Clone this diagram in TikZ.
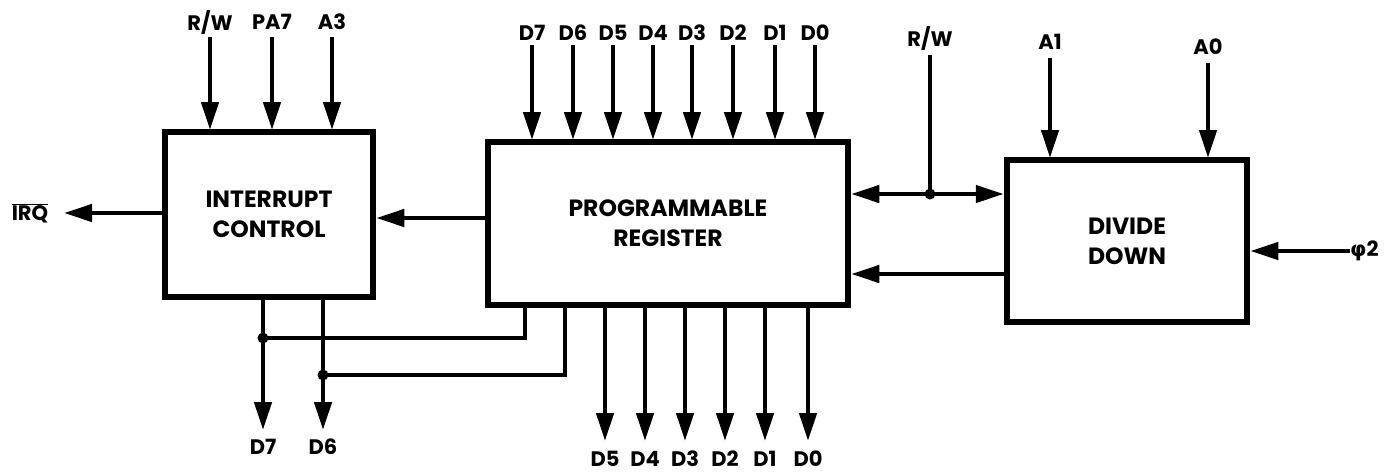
\documentclass[tikz,border=0pt]{standalone}
\usepackage{fontspec}
\setmainfont{Poppins}
\newfontfamily\dejavu{DejaVu Sans}
\usetikzlibrary{arrows.meta}
\begin{document}
\begin{tikzpicture}[x=1pt,y=-1pt,
  blk/.style={draw,line width=6.5pt,minimum width=#1,inner sep=0pt,align=center,font=\bfseries\fontsize{23.5}{30}\selectfont},
  sig/.style={line width=4.5pt,-{Triangle[length=28pt,width=17pt]}},
  dsig/.style={line width=4.5pt,{Triangle[length=28pt,width=17pt]}-{Triangle[length=28pt,width=17pt]}},
  wire/.style={line width=4.5pt},
  lbl/.style={inner sep=0pt,font=\bfseries\fontsize{21}{22}\selectfont},
  dot/.style={circle,fill,inner sep=0pt,minimum size=11pt}]
\useasboundingbox (0,0) rectangle (1388,475);
% boxes
\node[blk=208pt,minimum height=165pt] (ic) at (269,214.5) {INTERRUPT\\CONTROL};
\node[blk=360pt,minimum height=163pt] (pr) at (668,223.5) {PROGRAMMABLE\\REGISTER};
\node[blk=240pt,minimum height=162pt] (dd) at (1127,241) {DIVIDE\\DOWN};
% interrupt control inputs
\node[lbl] (rw1) at (210,22) {R/W};
\node[lbl] (pa7) at (272,22) {PA7};
\node[lbl] (a3) at (332,22) {A3};
\foreach \n/\x in {rw1/210,pa7/272,a3/332}
  \draw[sig] (\x,37) -- (\x,130);
% IRQ
\node[lbl] (irq) at (30,213) {$\overline{\hbox{IRQ}}$};
\draw[sig] (ic.west |- 0,213) -- (64,213);
% register -> interrupt
\draw[sig] (pr.west |- 0,218) -- (ic.east |- 0,218);
% interrupt control outputs
\coordinate (j7) at (263,338);
\coordinate (j6) at (323,375);
\node[lbl] (od7) at (263,447) {D7};
\node[lbl] (od6) at (323,447) {D6};
\draw[sig] (263,297) -- (263,430);
\draw[sig] (323,297) -- (323,430);
\draw[wire] (j7) -- (525,338) -- (525,305);
\draw[wire] (j6) -- (565,375) -- (565,305);
\node[dot] at (j7) {};
\node[dot] at (j6) {};
% register top inputs
\foreach \x/\t in {532/7,573/6,613/5,653/4,692/3,733/2,775/1,815/0}{
  \node[lbl] (ti\t) at (\x,33) {D\t};
  \draw[sig] (\x,45) -- (\x,140);
}
% register bottom outputs
\foreach \x/\t in {605/5,645/4,685/3,725/2,765/1,808/0}{
  \node[lbl] (bo\t) at (\x,459) {D\t};
  \draw[sig] (\x,305) -- (\x,441);
}
% R/W bidirectional
\node[lbl] (rw2) at (930,38) {R/W};
\coordinate (jr) at (930,194);
\draw[dsig] (pr.east |- 0,194) -- (dd.west |- 0,194);
\draw[wire] (930,55) -- (jr);
\node[dot] at (jr) {};
% divide down -> register
\draw[sig] (dd.west |- 0,274) -- (pr.east |- 0,274);
% A1, A0
\node[lbl] (a1) at (1050,42) {A1};
\node[lbl] (a0) at (1208,47) {A0};
\draw[sig] (1050,58) -- (1050,158);
\draw[sig] (1208,63) -- (1208,158);
% phi2
\node[lbl,anchor=west] (phi) at (1350,251) {{\dejavu\bfseries φ}2};
\draw[sig] (phi.west) -- (dd.east |- phi.west);
\end{tikzpicture}
\end{document}
